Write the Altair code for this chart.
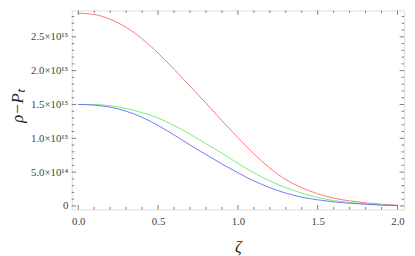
import altair as alt
import pandas as pd

# --- data (values in units of 1e15) ---
zeta = [0.0, 0.1, 0.2, 0.3, 0.4, 0.5, 0.6, 0.7, 0.8, 0.9, 1.0,
        1.1, 1.2, 1.3, 1.4, 1.5, 1.6, 1.7, 1.8, 1.9, 2.0]
red_vals = [2.85, 2.83, 2.76, 2.64, 2.47, 2.26, 2.02, 1.77, 1.52, 1.26, 1.01,
            0.77, 0.56, 0.39, 0.27, 0.18, 0.115, 0.075, 0.045, 0.025, 0.01]
green_vals = [1.50, 1.50, 1.48, 1.44, 1.38, 1.30, 1.19, 1.06, 0.92, 0.78, 0.63,
              0.49, 0.37, 0.27, 0.19, 0.125, 0.08, 0.05, 0.03, 0.015, 0.005]
blue_vals = [1.50, 1.49, 1.46, 1.40, 1.31, 1.19, 1.05, 0.90, 0.76, 0.62, 0.49,
             0.37, 0.27, 0.19, 0.13, 0.09, 0.06, 0.04, 0.025, 0.012, 0.005]
series_names = ["red", "green", "blue"]
series_colors = ["#ff7373", "#73f073", "#7373ff"]

x_major = [0.0, 0.5, 1.0, 1.5, 2.0]
x_labels = ["0.0", "0.5", "1.0", "1.5", "2.0"]
x_minor = [round(0.1 * i, 1) for i in range(21) if i % 5 != 0]
y_major = [0.0, 0.5, 1.0, 1.5, 2.0, 2.5]
y_labels = ["0", "5.0×10¹⁴", "1.0×10¹⁵", "1.5×10¹⁵", "2.0×10¹⁵", "2.5×10¹⁵"]
y_minor = [round(0.1 * i, 1) for i in range(29) if i % 5 != 0]

W, H = 339, 203
XD = [-0.041, 2.041]
YD = [-0.052, 2.89]
SERIF = "Liberation Serif"
FRAME = "#7a7a7a"

rows = []
for name, vals in zip(series_names, [red_vals, green_vals, blue_vals]):
    for z, v in zip(zeta, vals):
        rows.append({"zeta": z, "val": v, "series": name})
df = pd.DataFrame(rows)


def label_expr(values, labels):
    expr = "''"
    for v, l in zip(values, labels):
        expr = f"abs(datum.value - {v}) < 1e-6 ? '{l}' : ({expr})"
    return expr


xscale = alt.Scale(domain=XD, nice=False, zero=False)
yscale = alt.Scale(domain=YD, nice=False, zero=False)

lines = alt.Chart(df).mark_line(strokeWidth=1, clip=True, interpolate="monotone").encode(
    x=alt.X("zeta:Q", scale=xscale,
            axis=alt.Axis(values=x_major, labelExpr=label_expr(x_major, x_labels),
                          ticks=False, domain=False, grid=False,
                          labelFont=SERIF, labelFontSize=11, labelColor="#444",
                          labelPadding=6, title="ζ", titleFont=SERIF,
                          titleFontStyle="italic", titleFontWeight="normal",
                          titleFontSize=17, titleColor="#222", titlePadding=13)),
    y=alt.Y("val:Q", scale=yscale,
            axis=alt.Axis(values=y_major, labelExpr=label_expr(y_major, y_labels),
                          ticks=False, domain=False, grid=False,
                          labelFont=SERIF, labelFontSize=11, labelColor="#444",
                          labelPadding=4, title="ρ−Pₜ", titleFont=SERIF,
                          titleFontStyle="italic", titleFontWeight="normal",
                          titleFontSize=17, titleColor="#222",
                          titleX=-46, titleY=97)),
    color=alt.Color("series:N", scale=alt.Scale(domain=series_names, range=series_colors),
                    legend=None),
    detail="series:N",
)

xmaj = pd.DataFrame({"t": x_major})
xmin = pd.DataFrame({"t": x_minor})
ymaj = pd.DataFrame({"t": y_major})
ymin = pd.DataFrame({"t": y_minor})


def xticks(data, length):
    b = alt.Chart(data).mark_rule(color=FRAME, strokeWidth=1).encode(
        x=alt.X("t:Q", scale=xscale), y=alt.value(H), y2=alt.value(H - length))
    t = alt.Chart(data).mark_rule(color=FRAME, strokeWidth=1).encode(
        x=alt.X("t:Q", scale=xscale), y=alt.value(0), y2=alt.value(length))
    return [b, t]


def yticks(data, length):
    l = alt.Chart(data).mark_rule(color=FRAME, strokeWidth=1).encode(
        y=alt.Y("t:Q", scale=yscale), x=alt.value(0), x2=alt.value(length))
    r = alt.Chart(data).mark_rule(color=FRAME, strokeWidth=1).encode(
        y=alt.Y("t:Q", scale=yscale), x=alt.value(W), x2=alt.value(W - length))
    return [l, r]


layers = [lines] + xticks(xmaj, 4.5) + xticks(xmin, 2.5) + yticks(ymaj, 4.5) + yticks(ymin, 2.5)

chart = alt.layer(*layers).properties(
    width=W, height=H,
    autosize=alt.AutoSizeParams(type="none"),
    padding={"left": 65, "top": 0, "right": 3, "bottom": 45},
).configure_view(stroke=FRAME, strokeWidth=1).configure(background="white")

chart.save("out.html", embed_options={"renderer": "svg", "actions": False})
